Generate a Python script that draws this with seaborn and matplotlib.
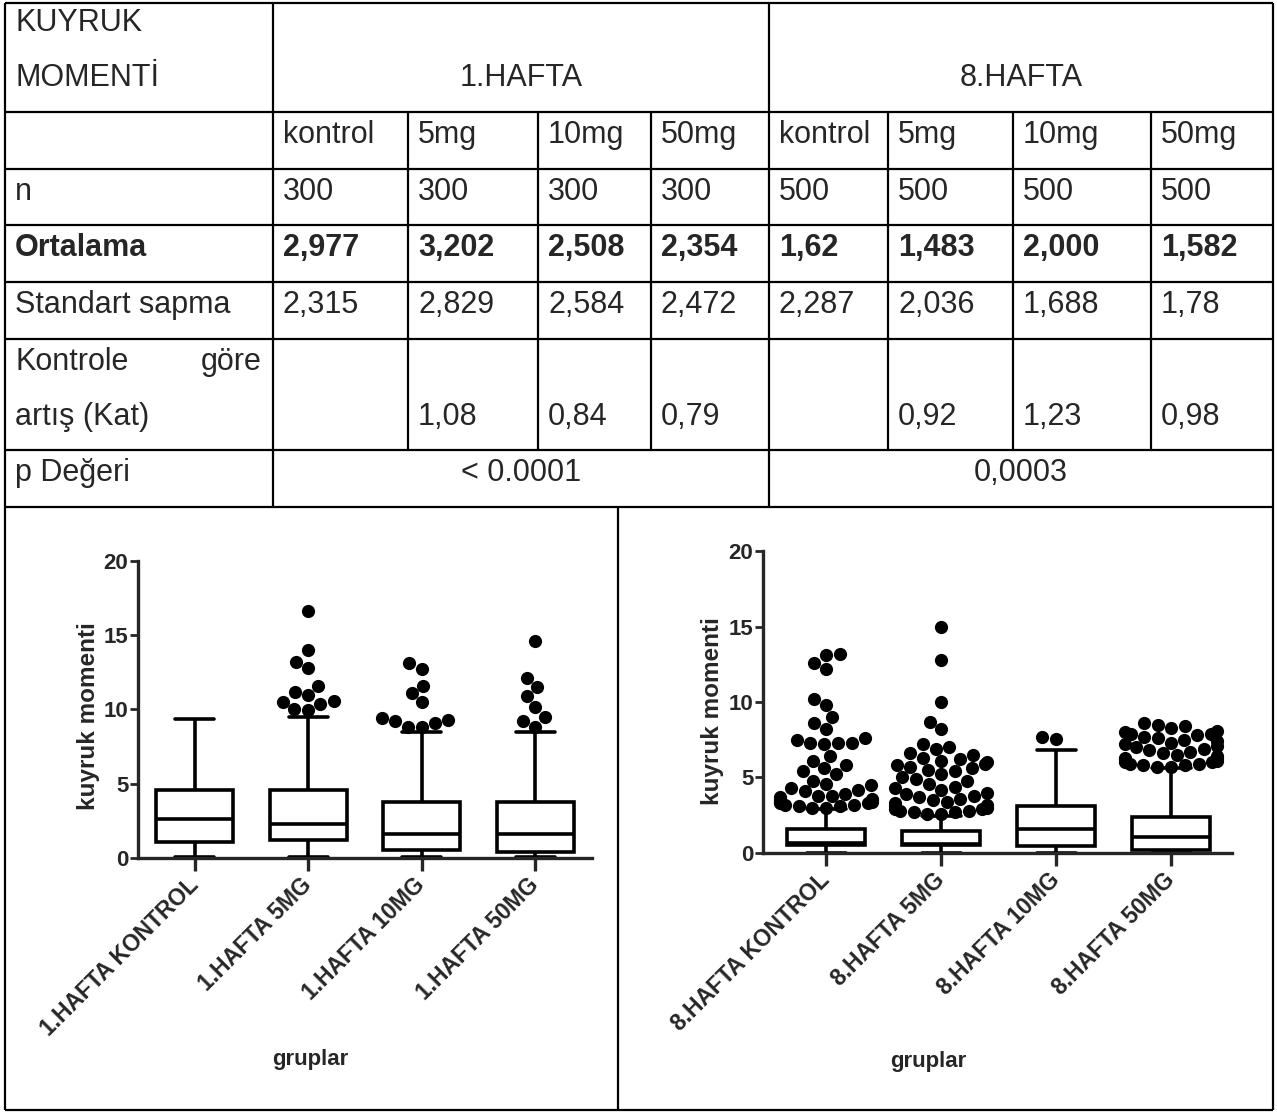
import warnings
import numpy as np
import pandas as pd
import matplotlib
matplotlib.use("Agg")
import matplotlib.pyplot as plt
import seaborn as sns

warnings.filterwarnings("ignore")

# ---- table contents ----
dose_cols = ["kontrol", "5mg", "10mg", "50mg", "kontrol", "5mg", "10mg", "50mg"]
n_vals = ["300", "300", "300", "300", "500", "500", "500", "500"]
mean_vals = ["2,977", "3,202", "2,508", "2,354", "1,62", "1,483", "2,000", "1,582"]
sd_vals = ["2,315", "2,829", "2,584", "2,472", "2,287", "2,036", "1,688", "1,78"]
fold_vals = ["", "1,08", "0,84", "0,79", "", "0,92", "1,23", "0,98"]
p_vals = ["< 0.0001", "0,0003"]
week_titles = ["1.HAFTA", "8.HAFTA"]

# ---- box plot summaries (whisker low, Q1, median, Q3, whisker high) ----
labels_w1 = ["1.HAFTA KONTROL", "1.HAFTA 5MG", "1.HAFTA 10MG", "1.HAFTA 50MG"]
box_w1 = [
    [0.05, 1.05, 2.62, 4.55, 9.35],
    [0.05, 1.19, 2.31, 4.55, 9.52],
    [0.05, 0.52, 1.63, 3.76, 8.47],
    [0.05, 0.40, 1.63, 3.76, 8.47],
]
out_w1 = [
    [],
    [16.6, 14.0, 13.2, 12.8, 11.6, 11.2, 11.0, 10.6, 10.5, 10.4, 10.0, 9.95],
    [13.1, 12.7, 11.6, 11.1, 10.5, 9.4, 9.3, 9.2, 9.1, 8.85, 8.8],
    [14.6, 12.1, 11.5, 10.9, 10.2, 9.5, 9.2, 8.85],
]

labels_w8 = ["8.HAFTA KONTROL", "8.HAFTA 5MG", "8.HAFTA 10MG", "8.HAFTA 50MG"]
box_w8 = [
    [0.02, 0.52, 0.65, 1.60, 2.92],
    [0.02, 0.52, 0.62, 1.43, 2.45],
    [0.02, 0.48, 1.58, 3.08, 6.81],
    [0.00, 0.22, 1.05, 2.35, 5.65],
]
out_w8 = [
    [13.2, 13.1, 12.6, 12.2, 10.2, 9.8, 9.0, 8.6, 8.2, 7.6, 7.5, 7.3, 7.3, 7.2,
     7.3, 6.4, 6.1, 5.8, 5.6, 5.4, 5.2, 4.8, 4.6, 4.5, 4.3, 4.2, 4.1, 3.9, 3.8,
     3.8, 3.7, 3.6, 3.5, 3.5, 3.4, 3.4, 3.3, 3.3, 3.2, 3.2, 3.1, 3.1, 3.0, 3.0],
    [15.0, 12.8, 10.0, 8.7, 8.2, 7.2, 7.0, 6.9, 6.6, 6.5, 6.3, 6.2, 6.1, 6.0,
     5.9, 5.8, 5.7, 5.6, 5.5, 5.4, 5.2, 5.0, 4.9, 4.8, 4.6, 4.4, 4.3, 4.2, 4.0,
     3.9, 3.8, 3.7, 3.6, 3.5, 3.4, 3.3, 3.2, 3.1, 3.0, 2.9, 2.9, 2.8, 2.8, 2.7,
     2.7, 2.6, 2.6],
    [7.69, 7.56],
    [8.6, 8.5, 8.4, 8.3, 8.1, 8.0, 7.9, 7.9, 7.8, 7.7, 7.6, 7.5, 7.4, 7.3, 7.2,
     7.1, 7.0, 6.9, 6.8, 6.7, 6.6, 6.5, 6.4, 6.3, 6.3, 6.2, 6.1, 6.0, 6.0, 5.9,
     5.9, 5.8, 5.8, 5.7, 5.7],
]

W, H = 1277, 1113
sns.set_style("ticks")
plt.rcParams["font.family"] = ["Liberation Sans", "DejaVu Sans"]

fig = plt.figure(figsize=(W / 100, H / 100), dpi=100)
fig.patch.set_facecolor("white")

# ---------- table (pixel coordinates) ----------
tab = fig.add_axes([0, 0, 1, 1])
tab.set_xlim(0, W)
tab.set_ylim(H, 0)
tab.axis("off")

col_x = [5, 273, 408, 538, 651, 769, 888, 1013, 1151, 1273]
row_y = [3, 112, 169, 225, 282, 339, 450, 507]
bottom_y = 1110
split_x = 618
lw = 1.6

tab.hlines(row_y, col_x[0], col_x[-1], color="black", lw=lw)
tab.hlines(bottom_y, col_x[0], col_x[-1], color="black", lw=lw)
tab.vlines([col_x[0], col_x[-1]], row_y[0], bottom_y, color="black", lw=lw)
tab.vlines([col_x[1], col_x[5]], row_y[0], row_y[-1], color="black", lw=lw)
tab.vlines([col_x[i] for i in (2, 3, 4, 6, 7, 8)], row_y[1], row_y[6], color="black", lw=lw)
tab.vlines(split_x, row_y[-1], bottom_y, color="black", lw=lw)

fs = 22
pad = 10
base = 31
tab.text(col_x[0] + pad, 31, "KUYRUK", fontsize=fs, va="baseline")
tab.text(col_x[0] + pad, 86, "MOMENTİ", fontsize=fs, va="baseline")
tab.text((col_x[1] + col_x[5]) / 2, 86, week_titles[0], fontsize=fs, ha="center", va="baseline")
tab.text((col_x[5] + col_x[9]) / 2, 86, week_titles[1], fontsize=fs, ha="center", va="baseline")

tab.text(col_x[0] + pad, row_y[2] + base, "n", fontsize=fs, va="baseline")
tab.text(col_x[0] + pad, row_y[3] + base, "Ortalama", fontsize=fs, va="baseline", fontweight="bold")
tab.text(col_x[0] + pad, row_y[4] + base, "Standart sapma", fontsize=fs, va="baseline")
tab.text(col_x[0] + pad, row_y[5] + base, "Kontrole", fontsize=fs, va="baseline")
tab.text(col_x[1] - 11, row_y[5] + base, "göre", fontsize=fs, va="baseline", ha="right")
tab.text(col_x[0] + pad, row_y[5] + base + 55, "artış (Kat)", fontsize=fs, va="baseline")
tab.text(col_x[0] + pad, row_y[6] + base, "p Değeri", fontsize=fs, va="baseline")

for i in range(8):
    x = col_x[i + 1] + pad
    tab.text(x, row_y[1] + base, dose_cols[i], fontsize=fs, va="baseline")
    tab.text(x, row_y[2] + base, n_vals[i], fontsize=fs, va="baseline")
    tab.text(x, row_y[3] + base, mean_vals[i], fontsize=fs, va="baseline", fontweight="bold")
    tab.text(x, row_y[4] + base, sd_vals[i], fontsize=fs, va="baseline")
    tab.text(x, row_y[5] + base + 55, fold_vals[i], fontsize=fs, va="baseline")

tab.text((col_x[1] + col_x[5]) / 2, row_y[6] + base, p_vals[0], fontsize=fs, ha="center", va="baseline")
tab.text((col_x[5] + col_x[9]) / 2, row_y[6] + base, p_vals[1], fontsize=fs, ha="center", va="baseline")


# ---------- box plots ----------
def px_axes(x0, x1, y_top, y_bot):
    return fig.add_axes([x0 / W, 1 - y_bot / H, (x1 - x0) / W, (y_bot - y_top) / H])


def draw_panel(ax, labels, boxes, outliers, xlim, ylab_xy, xlab_xy):
    df_box = pd.DataFrame({
        "grup": np.repeat(labels, [len(b) for b in boxes]),
        "deger": np.concatenate(boxes),
    })
    df_out = pd.DataFrame({
        "grup": np.repeat(labels, [len(o) for o in outliers]),
        "deger": np.concatenate([np.asarray(o, float) for o in outliers]),
    })
    sns.boxplot(data=df_box, x="grup", y="deger", order=labels, whis=(0, 100),
                width=0.68, color="white", linecolor="black", linewidth=2.6,
                showfliers=False, ax=ax)
    sns.swarmplot(data=df_out, x="grup", y="deger", order=labels, color="black",
                  size=9.5, linewidth=0, ax=ax)
    ax.set_xlim(*xlim)
    ax.set_ylim(-0.4, 20.4)
    ax.set_yticks([0, 5, 10, 15, 20])
    ax.patch.set_alpha(0)
    sns.despine(ax=ax)
    ax.spines["left"].set_bounds(0, 20)
    ax.spines["bottom"].set_position(("data", 0))
    for s in ("left", "bottom"):
        ax.spines[s].set_linewidth(2.4)
    ax.tick_params(axis="y", length=6, width=2, pad=1, labelsize=16)
    ax.tick_params(axis="x", length=9, width=2.4, pad=8, labelsize=16.5)
    for t in ax.get_yticklabels():
        t.set_fontweight("bold")
    ax.set_xticks(range(4))
    ax.set_xticklabels(labels, rotation=45, ha="right", va="center",
                       rotation_mode="anchor", fontweight="bold")
    ax.set_ylabel("kuyruk momenti", fontsize=17.5, fontweight="bold")
    ax.yaxis.set_label_coords(*ylab_xy)
    ax.set_xlabel("gruplar", fontsize=16, fontweight="bold")
    ax.xaxis.set_label_coords(*xlab_xy)


ax1 = px_axes(138, 592, 555, 864)
draw_panel(ax1, labels_w1, box_w1, out_w1, (-0.5, 3.5), (-0.083, 0.479), (0.379, -0.60))

ax2 = px_axes(763, 1232, 545, 859)
draw_panel(ax2, labels_w8, box_w8, out_w8, (-0.55, 3.53), (-0.083, 0.47), (0.352, -0.61))

fig.savefig("out.png", dpi=100, facecolor="white")
